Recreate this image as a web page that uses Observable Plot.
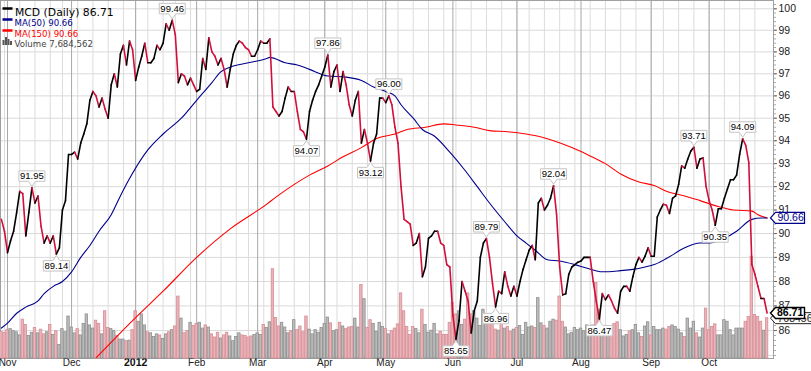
<!DOCTYPE html>
<html>
<head>
<meta charset="utf-8">
<script src="https://cdn.jsdelivr.net/npm/d3@7"></script>
<script src="https://cdn.jsdelivr.net/npm/@observablehq/plot@0.6"></script>
<style>
html,body{margin:0;padding:0;background:#fff;}
#chart{position:relative;width:811px;height:371px;overflow:hidden;background:#fff;}
#chart > svg{position:absolute;left:0;top:0;}
</style>
</head>
<body>
<div id="chart"></div>
<script>
// ---------- DATA (MCD daily, trading days from 2011-10-28) ----------
const closes = [
90.6,90.1,89.2,89.7,90.1,90.9,91.8,91.7,89.9,90.9,
91.95,91.3,91.6,90.3,89.6,89.9,89.6,89.9,89.14,89.4,
91.0,91.4,93.4,93.4,93.5,93.2,93.9,94.3,94.75,95.8,
96.2,96.0,95.5,95.9,95.4,95.0,96.5,97.0,96.4,97.9,
98.3,97.4,98.5,98.1,96.7,97.3,97.8,98.4,97.5,97.5,
97.7,98.3,98.1,98.4,99.3,99.0,99.46,98.8,96.6,97.0,
96.9,96.5,96.8,96.5,96.2,96.3,97.7,97.2,98.65,98.0,
97.8,97.4,97.7,97.2,96.4,97.2,97.9,98.3,98.5,98.4,
98.2,98.1,97.8,97.8,98.1,98.5,98.4,98.4,98.6,95.5,
95.3,95.1,95.3,95.9,96.4,96.2,96.2,95.3,94.5,94.4,
94.07,95.3,95.8,96.2,96.5,96.9,97.3,97.86,96.4,97.1,
97.4,96.2,97.1,96.5,95.6,95.1,95.8,96.2,93.9,94.5,
93.9,93.12,93.9,94.3,95.9,95.9,95.7,96.0,95.6,94.6,
93.9,92.0,90.6,90.5,90.4,89.5,89.6,90.0,88.2,88.6,
89.8,89.9,90.1,90.1,89.6,89.5,88.7,88.6,86.6,85.65,
86.4,88.0,87.6,87.2,85.9,86.8,87.2,89.0,89.6,89.79,
89.0,87.9,86.96,87.6,87.5,88.4,87.8,87.4,87.8,87.4,
88.0,88.5,88.9,89.3,89.5,88.9,91.3,91.5,91.0,91.2,
91.5,92.04,90.8,88.6,87.45,87.5,88.3,88.6,88.7,88.8,
88.85,89.0,89.0,89.0,88.0,87.2,86.47,87.5,87.25,87.45,
87.2,86.9,86.7,87.6,87.8,87.8,87.6,88.2,88.7,89.0,
88.8,89.05,89.4,89.05,89.05,90.7,91.0,91.25,91.2,90.85,
91.5,91.6,92.1,92.9,92.8,93.2,93.55,93.71,92.8,93.2,
93.25,92.0,91.4,91.0,90.35,91.05,91.05,91.5,91.9,92.3,
92.3,92.5,93.4,94.09,93.8,93.05,88.7,88.3,87.8,87.3,
87.3,86.71
];
const volumeMillions = [
5.1,4.9,5.4,5.6,5.2,5.0,4.4,7.4,6.4,4.3,
4.9,5.8,4.8,5.5,4.6,5.0,6.4,4.5,5.2,2.6,
5.6,5.0,8.0,5.9,4.8,5.6,4.4,6.6,8.4,6.3,
5.7,7.2,6.6,4.6,9.0,5.8,5.6,5.2,4.3,3.6,
3.6,3.3,3.4,5.4,9.0,7.0,8.4,6.3,5.0,4.8,
4.1,4.6,4.4,3.7,4.6,5.0,5.4,6.1,11.8,7.6,
4.8,5.2,6.8,6.2,6.6,6.8,5.7,6.3,5.9,4.6,
4.0,4.9,3.8,4.4,4.9,4.2,3.3,4.1,4.8,4.4,
4.3,4.0,4.2,4.5,4.8,4.5,6.4,5.8,6.9,17.0,
7.7,6.1,6.8,5.9,4.8,5.2,7.3,5.4,6.1,5.0,
8.0,5.5,4.6,5.4,4.9,5.8,6.6,7.8,6.7,5.2,
5.4,6.8,6.1,5.6,5.9,6.0,7.6,5.9,14.0,11.3,
5.8,7.3,6.6,5.1,6.8,6.0,5.6,4.6,5.2,5.7,
6.5,12.4,9.0,6.0,4.5,6.0,5.6,4.8,9.3,6.4,
4.9,5.3,6.6,4.6,5.1,4.5,4.5,6.8,10.6,8.4,
9.0,6.4,7.4,12.4,8.4,9.0,7.6,6.2,9.3,7.8,
7.4,6.7,5.5,5.3,6.6,5.7,6.0,5.1,5.5,5.8,
6.2,4.5,6.8,5.9,6.1,5.8,11.5,6.7,6.2,5.7,
7.0,7.4,7.2,11.8,7.0,5.9,4.6,4.9,5.8,5.4,
5.7,5.2,6.3,5.9,6.3,14.4,9.3,5.6,4.6,4.8,
5.0,6.6,6.9,5.4,4.2,4.5,5.2,5.4,6.4,4.8,
4.1,6.1,6.9,4.4,6.0,5.4,5.4,5.7,5.5,6.0,
6.3,6.0,5.5,4.8,4.1,7.6,5.7,7.0,4.8,4.0,
5.7,9.5,5.4,6.0,6.5,4.4,4.4,7.3,7.0,5.4,
4.4,5.7,5.7,5.7,7.0,7.9,19.4,8.3,7.9,7.0,
5.3,7.684562
];
// moving averages (trading-day number, value)
const ma50Day = [0,2,5,8,12,14,17,20,23,26,29,32,36,39,42,48,53,59,64,69,72,75,81,87,88,93,97,101,107,113,118,122,126,129,131,135,138,142,147,152,156,160,165,169,172,175,179,183,188,192,197,203,207,211,214,218,224,229,232,237,241,246,249,251];
const ma50Value = [86.1,86.3,86.7,86.95,87.2,87.5,87.8,88.0,88.4,89.0,89.5,90.1,90.8,91.6,92.35,93.6,94.3,95.0,95.8,96.6,97.1,97.3,97.5,97.7,97.75,97.5,97.4,97.2,96.9,96.85,96.7,96.4,96.2,96.0,95.6,95.0,94.5,94.2,93.5,92.7,92.0,91.3,90.5,89.9,89.6,89.3,88.9,88.85,88.7,88.55,88.4,88.45,88.5,88.6,88.7,88.95,89.4,89.6,89.6,89.8,90.1,90.6,90.66,90.66];
const ma150Day = [31,43,53,64,75,87,90,96,101,107,112,118,123,129,133,139,145,149,155,160,166,172,176,181,187,192,198,203,209,214,218,224,229,235,240,246,248,251];
const ma150Value = [84.9,86.4,87.6,89.0,90.2,91.25,91.55,92.1,92.5,92.9,93.3,93.7,94.1,94.3,94.5,94.6,94.75,94.7,94.6,94.45,94.4,94.3,94.2,94.0,93.7,93.4,93.0,92.55,92.2,92.05,91.8,91.6,91.4,91.15,91.0,90.95,90.8,90.66];
// labelled highs / lows
const annDay = [10,18,56,100,107,121,127,149,159,162,181,196,227,234,243];
const annSide = ["above","below","above","below","above","below","above","below","above","below","above","below","above","below","above"];
// axes
const priceTicks = [86,87,88,89,90,91,92,93,94,95,96,97,98,99,100];
const gridPrices = [85,86,87,88,89,90,91,92,93,94,95,96,97,98,99,100];
const monthLabels = ["Nov","Dec","2012","Feb","Mar","Apr","May","Jun","Jul","Aug","Sep","Oct"];
const holidays = ["2011-11-24","2011-12-26","2012-01-02","2012-01-16","2012-02-20","2012-04-06","2012-05-28","2012-07-04","2012-09-03","2012-10-29","2012-10-30"];

// ---------- derived tables ----------
const dates = [];
for (let d = new Date(Date.UTC(2011, 9, 28)); dates.length < closes.length; d = new Date(d.getTime() + 864e5)) {
  const wd = d.getUTCDay(), iso = d.toISOString().slice(0, 10);
  if (wd !== 0 && wd !== 6 && !holidays.includes(iso)) dates.push(d);
}
const monthStarts = [], weekStarts = [];
for (let i = 1; i < dates.length; i++) {
  if (dates[i].getUTCMonth() !== dates[i - 1].getUTCMonth()) monthStarts.push(i);
  if (+d3.utcMonday.floor(dates[i]) !== +d3.utcMonday.floor(dates[i - 1])) weekStarts.push(i);
}
const monthRows = monthStarts.map((i, k) => ({i, label: monthLabels[k], bold: /^\d{4}$/.test(monthLabels[k])}));
const rows = closes.map((c, i) => ({i, c, v: volumeMillions[i], down: i === 0 || c < closes[i - 1]}));
const segs = rows.slice(1).map(r => ({i0: r.i - 1, c0: closes[r.i - 1], i1: r.i, c1: r.c, down: r.down}));
const ma50 = ma50Day.map((i, k) => ({i, v: ma50Value[k]}));
const ma150 = ma150Day.map((i, k) => ({i, v: ma150Value[k]}));
const ann = annDay.map((i, k) => ({i, c: closes[i], side: annSide[k], label: closes[i].toFixed(2)}));
const last = closes.length - 1;
const lastClose = closes[last], lastMa50 = ma50Value[ma50Value.length - 1], lastMa150 = ma150Value[ma150Value.length - 1];
const lastVolShares = Math.round(volumeMillions[last] * 1e6);

// ---------- layout ----------
const W = 811, H = 371;
const common = {width: W, height: H, marginLeft: 0, marginRight: 38, marginTop: 0, marginBottom: 13};
const xDom = [-0.3, 253.1];
const xS = {domain: xDom, axis: null};
const yP = {type: "log", domain: [84.88, 100.39], axis: null};
const style = {background: "transparent", fontFamily: "'Liberation Sans', Arial, sans-serif"};
const minorTicks = d3.range(85, 100.35, 0.2);

// symbols
const calloutAbove = {draw(c){c.moveTo(-13,-17);c.lineTo(13,-17);c.lineTo(13,-6.5);c.lineTo(3.5,-6.5);c.lineTo(0,-1.5);c.lineTo(-3.5,-6.5);c.lineTo(-13,-6.5);c.closePath();}};
const calloutBelow = {draw(c){c.moveTo(-13,17);c.lineTo(13,17);c.lineTo(13,6.5);c.lineTo(3.5,6.5);c.lineTo(0,1.5);c.lineTo(-3.5,6.5);c.lineTo(-13,6.5);c.closePath();}};
const tag = {draw(c){c.moveTo(-3,0);c.lineTo(2,-5.5);c.lineTo(31,-5.5);c.lineTo(31,5.5);c.lineTo(2,5.5);c.closePath();}};
const tagWide = {draw(c){c.moveTo(-3,0);c.lineTo(2,-5.5);c.lineTo(60,-5.5);c.lineTo(60,5.5);c.lineTo(2,5.5);c.closePath();}};
const dash = {draw(c){c.moveTo(-5,0);c.lineTo(5,0);}};
const volIcon = {draw(c){c.rect(-5,-1,2,5);c.rect(-2.5,-4,2,8);c.rect(0,-2,2,6);c.rect(2.5,0,2,4);}};

const chart = document.getElementById("chart");

// layer 1: grid + axes
chart.append(Plot.plot({
  ...common, style, x: xS, y: yP,
  marks: [
    Plot.ruleY(gridPrices, {stroke: "#dadada"}),
    Plot.ruleX(weekStarts, {stroke: "#dcdcdc"}),
    Plot.ruleX(monthStarts, {stroke: "#a8a8a8"}),
    Plot.frame({stroke: "#a0a0a0"}),
    Plot.axisY(minorTicks, {anchor: "right", tickSize: 2, tickFormat: () => "", stroke: "#aaa", label: null}),
    Plot.axisY(priceTicks, {anchor: "right", tickSize: 3, tickPadding: 2, fontSize: 10.5, fill: "#222", stroke: "#666", label: null, tickFormat: d => String(d)}),
    Plot.text(monthRows.filter(d => !d.bold), {x: "i", text: "label", frameAnchor: "bottom", dy: 7, fontSize: 10, fill: "#222"}),
    Plot.text(monthRows.filter(d => d.bold), {x: "i", text: "label", frameAnchor: "bottom", dy: 7, fontSize: 10.5, fontWeight: "bold", fill: "#111"})
  ]
}));

// layer 2: volume
chart.append(Plot.plot({
  ...common, style, x: xS, y: {domain: [0, 68.2], axis: null}, color: {type: "identity"},
  marks: [
    Plot.rect(rows, {x1: d => d.i - 0.4, x2: d => d.i + 0.4, y1: 0, y2: "v",
      fill: d => d.down ? "#ebb4b9" : "#bcbcbc", stroke: d => d.down ? "#d68d95" : "#8e8e8e", strokeWidth: 0.8}),
    Plot.dot([{x: xDom[1], v: volumeMillions[last]}], {x: "x", y: "v", symbol: tagWide, fill: "#fff", stroke: "#222", strokeWidth: 1}),
    Plot.text([{x: xDom[1], v: volumeMillions[last]}], {x: "x", y: "v", text: () => String(lastVolShares), dx: 4, textAnchor: "start", fontSize: 10.5, fill: "#222"})
  ]
}));

// layer 3: price, moving averages, labels, legend
chart.append(Plot.plot({
  ...common, style, x: xS, y: yP, color: {type: "identity"},
  marks: [
    Plot.line(ma150, {x: "i", y: "v", stroke: "#ff0000", strokeWidth: 1.1, curve: "monotone-x", clip: true}),
    Plot.line(ma50, {x: "i", y: "v", stroke: "#00008b", strokeWidth: 1.1, curve: "monotone-x", clip: true}),
    Plot.link(segs, {x1: "i0", y1: "c0", x2: "i1", y2: "c1", stroke: d => d.down ? "#d0103a" : "#000", strokeWidth: 1.6, strokeLinecap: "round"}),
    Plot.dot(ann.filter(d => d.side === "above"), {x: "i", y: "c", symbol: calloutAbove, fill: "#fff", stroke: "#c4c4c4", strokeWidth: 1}),
    Plot.dot(ann.filter(d => d.side === "below"), {x: "i", y: "c", symbol: calloutBelow, fill: "#fff", stroke: "#c4c4c4", strokeWidth: 1}),
    Plot.text(ann.filter(d => d.side === "above"), {x: "i", y: "c", text: "label", dy: -11.5, fontSize: 9.5, fill: "#000"}),
    Plot.text(ann.filter(d => d.side === "below"), {x: "i", y: "c", text: "label", dy: 12, fontSize: 9.5, fill: "#000"}),
    // right-edge value tags
    Plot.dot([{x: xDom[1], v: lastMa50}], {x: "x", y: "v", symbol: tag, fill: "#fff", stroke: "#00008b", strokeWidth: 1.2}),
    Plot.text([{x: xDom[1], v: lastMa50}], {x: "x", y: "v", text: d => d.v.toFixed(2), dx: 4, textAnchor: "start", fontSize: 10.5, fill: "#00008b"}),
    Plot.dot([{x: xDom[1], v: lastClose}], {x: "x", y: "v", symbol: tag, fill: "#fff", stroke: "#000", strokeWidth: 1.4}),
    Plot.text([{x: xDom[1], v: lastClose}], {x: "x", y: "v", text: d => d.v.toFixed(2), dx: 3.5, textAnchor: "start", fontSize: 10.5, fontWeight: "bold", fill: "#000"}),
    // legend
    Plot.dot([0], {frameAnchor: "top-left", dx: 7, dy: 8, symbol: dash, stroke: "#000", strokeWidth: 2.5}),
    Plot.dot([0], {frameAnchor: "top-left", dx: 7, dy: 19, symbol: dash, stroke: "#00008b", strokeWidth: 2.5}),
    Plot.dot([0], {frameAnchor: "top-left", dx: 7, dy: 30, symbol: dash, stroke: "#ff0000", strokeWidth: 2.5}),
    Plot.dot([0], {frameAnchor: "top-left", dx: 7, dy: 40.5, symbol: volIcon, fill: "#555", stroke: "none"}),
    Plot.text([`MCD (Daily) ${lastClose.toFixed(2)}`], {frameAnchor: "top-left", dx: 14.5, dy: 8.3, text: d => d, textAnchor: "start", fontSize: 10.8, fontFamily: "DejaVu Sans", fill: "#000"}),
    Plot.text([`MA(50) ${lastMa50.toFixed(2)}`], {frameAnchor: "top-left", dx: 14, dy: 19, text: d => d, textAnchor: "start", fontSize: 8.6, fontFamily: "DejaVu Sans", fill: "#00008b"}),
    Plot.text([`MA(150) ${lastMa150.toFixed(2)}`], {frameAnchor: "top-left", dx: 14, dy: 30, text: d => d, textAnchor: "start", fontSize: 8.6, fontFamily: "DejaVu Sans", fill: "#ff0000"}),
    Plot.text([`Volume ${d3.format(",")(lastVolShares)}`], {frameAnchor: "top-left", dx: 14, dy: 40.7, text: d => d, textAnchor: "start", fontSize: 8.6, fontFamily: "DejaVu Sans", fill: "#444"})
  ]
}));
</script>
</body>
</html>
